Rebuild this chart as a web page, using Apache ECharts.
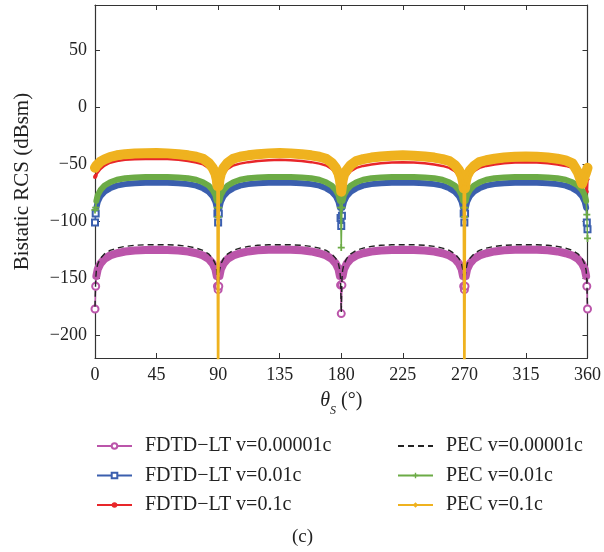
<!DOCTYPE html>
<html>
<head>
<meta charset="utf-8">
<script src="https://cdn.jsdelivr.net/npm/echarts@6/dist/echarts.min.js"></script>
<style>
  html, body { margin: 0; padding: 0; background: #fff; }
  #chart { width: 604px; height: 552px; }
</style>
</head>
<body>
<div id="chart"></div>
<script>
// scattering angle (deg)
const angles = [
  0, 0.5, 1, 2, 4, 7, 11, 16, 22, 29, 37, 45, 53, 61, 68, 74, 79, 83, 86, 88, 89, 89.5,
  90, 90.5, 91, 92, 94, 97, 101, 106, 112, 119, 127, 135, 143, 151, 158, 164, 169, 173, 176, 178, 179, 179.5,
  180, 180.5, 181, 182, 184, 187, 191, 196, 202, 209, 217, 225, 233, 241, 248, 254, 259, 263, 266, 268, 269, 269.5,
  270, 270.5, 271, 272, 274, 277, 281, 286, 292, 299, 307, 315, 323, 331, 338, 344, 349, 353, 356, 358, 359, 359.5,
  360
];

// FDTD-LT v=0.00001c
const fdtdLow = [
  -177, -157, -148, -142, -137, -133, -130, -128, -126.5, -125.6, -125.2, -125, -125.2, -125.6, -126.5, -128, -130, -133, -137, -142, -148, -157,
  -160, -157, -148, -142, -137, -133, -130, -128, -126.4, -125.4, -124.9, -124.7, -124.9, -125.4, -126.4, -128, -130, -133, -137, -142, -148, -156,
  -181, -156, -148, -142, -137, -133, -130, -128, -126.5, -125.6, -125.2, -125, -125.2, -125.6, -126.5, -128, -130, -133, -137, -142, -148, -157,
  -160, -157, -148, -142, -137, -133, -130, -128, -126.4, -125.4, -124.9, -124.7, -124.9, -125.4, -126.4, -128, -130, -133, -137, -142, -148, -157,
  -177
];
// FDTD-LT v=0.01c
const fdtdMid = [
  -101, -93, -88, -83, -78, -74, -71, -68.6, -67.3, -66.5, -66.1, -66, -66.1, -66.5, -67.3, -68.6, -71, -74, -78, -83, -88, -93,
  -101, -93, -88, -83, -78, -74, -71, -68.6, -67.3, -66.5, -66.1, -66, -66.1, -66.5, -67.3, -68.6, -71, -74, -78, -83, -88, -97,
  -104, -95, -88, -83, -78, -74, -71, -68.6, -67.3, -66.5, -66.1, -66, -66.1, -66.5, -67.3, -68.6, -71, -74, -78, -83, -88, -93,
  -101, -93, -88, -83, -78, -74, -71, -68.6, -67.3, -66.5, -66.1, -66, -66.1, -66.5, -67.3, -68.6, -71, -74, -78, -83, -88, -101,
  -107
];
// FDTD-LT v=0.1c
const fdtdHigh = [
  -61, -60, -59, -57, -54, -51, -48.5, -47, -46, -45.5, -45.2, -45, -45.3, -46, -47, -48.3, -50, -53, -57, -62, -67, -72,
  -78, -73, -68, -63, -58, -54, -51, -49.3, -48, -47, -46.3, -46, -46.3, -47, -48, -49.3, -51, -54, -58, -63, -68, -73,
  -79, -75, -70, -65, -60, -56, -53, -51.3, -50, -49, -48.3, -48, -48.3, -49, -50, -51.3, -53, -56, -60, -65, -70, -75,
  -80, -75, -70, -65, -60, -56, -53, -51.3, -50, -49, -48.3, -48, -48.3, -49, -50, -51.3, -53, -56, -60, -66, -71, -74,
  -63
];
// PEC v=0.00001c
const pecLow = [
  -175, -151, -143, -137.5, -132.5, -128.5, -125.5, -123.5, -122, -121, -120.6, -120.5, -120.6, -121, -122, -123.5, -125.5, -128.5, -132.5, -137.5, -143, -151,
  -161, -151, -143, -137.5, -132.5, -128.5, -125.5, -123.5, -122, -121, -120.6, -120.5, -120.6, -121, -122, -123.5, -125.5, -128.5, -132.5, -137.5, -143, -151,
  -180, -151, -143, -137.5, -132.5, -128.5, -125.5, -123.5, -122, -121, -120.6, -120.5, -120.6, -121, -122, -123.5, -125.5, -128.5, -132.5, -137.5, -143, -151,
  -161, -151, -143, -137.5, -132.5, -128.5, -125.5, -123.5, -122, -121, -120.6, -120.5, -120.6, -121, -122, -123.5, -125.5, -128.5, -132.5, -137.5, -143, -151,
  -175
];
// PEC v=0.01c
const pecMid = [
  -90, -88, -82, -77, -72.5, -68.5, -65.7, -63.5, -62.2, -61.5, -61.1, -61, -61.1, -61.5, -62.2, -63.5, -65.7, -68.5, -72.5, -77, -82, -88,
  -96, -88, -82, -77, -72.5, -68.5, -65.7, -63.5, -62.2, -61.5, -61.1, -61, -61.1, -61.5, -62.2, -63.5, -65.7, -68.5, -72.5, -77, -82, -88,
  -123, -88, -82, -77, -72.5, -68.5, -65.7, -63.5, -62.2, -61.5, -61.1, -61, -61.1, -61.5, -62.2, -63.5, -65.7, -68.5, -72.5, -77, -82, -88,
  -96, -88, -82, -77, -72.5, -68.5, -65.7, -63.5, -62.2, -61.5, -61.1, -61, -61.1, -61.5, -62.2, -63.5, -65.7, -68.5, -72.5, -77, -82, -94,
  -115
];
// PEC v=0.1c
const pecHigh = [
  -53, -52, -51, -49.5, -47.5, -45.5, -43.5, -42, -41, -40.4, -40.1, -40, -40.3, -41, -42, -43.3, -45, -48.5, -53, -58, -63, -69,
  -250, -69, -63, -58, -53, -48.5, -45, -43.3, -42, -41, -40.3, -40, -40.3, -41, -42, -43.3, -45, -48.5, -53, -58, -63, -68,
  -74, -69, -64, -59, -55, -50.5, -47, -45.3, -44, -43, -42.3, -42, -42.3, -43, -44, -45.3, -47, -50.5, -55, -60, -65, -71,
  -250, -71, -65, -60, -55.5, -51.5, -48, -46.3, -45, -44, -43.3, -43, -43.3, -44, -45, -46.5, -49, -57, -67, -60, -57, -55,
  -53
];

const yTicks = [-200, -150, -100, -50, 0, 50];

const FONT = "'Liberation Serif', 'Times New Roman', serif";
const PLUS = 'path://M3,0H5V3H8V5H5V8H3V5H0V3H3Z';

function pairs(vals, floor) {
  return angles.map((a, i) => [a, (floor != null && vals[i] < floor) ? '-' : vals[i]]);
}

// marker only near the nulls of the pattern
function dipSize(size) {
  return function (v) {
    const m = v[0] % 90;
    return (m <= 0.5 || m >= 89.5) ? size : 0;
  };
}

function thin(name, vals, color, symbol, size, width, z, extra) {
  return Object.assign({
    name: name,
    type: 'line',
    data: pairs(vals),
    z: z,
    symbol: symbol,
    symbolSize: dipSize(size),
    showAllSymbol: true,
    itemStyle: { color: color, borderWidth: 1.2 },
    lineStyle: { color: color, width: width },
    silent: true
  }, extra || {});
}

function band(name, vals, color, width, floor, z) {
  return {
    name: name,
    type: 'line',
    data: pairs(vals, floor),
    z: z,
    symbol: 'none',
    itemStyle: { color: color },
    lineStyle: { color: color, width: width, cap: 'round', join: 'round' },
    silent: true
  };
}

const nFL = 'FDTD\u2212LT v=0.00001c';
const nFM = 'FDTD\u2212LT v=0.01c';
const nFH = 'FDTD\u2212LT v=0.1c';
const nPL = 'PEC v=0.00001c';
const nPM = 'PEC v=0.01c';
const nPH = 'PEC v=0.1c';

const pink = '#bb55aa', blue = '#3b5fae', red = '#e8262a', black = '#222222', green = '#6cab46', yellow = '#efb21f';

const chart = echarts.init(document.getElementById('chart'));

const axisCommon = {
  axisLine: { show: true, onZero: false, lineStyle: { color: '#333', width: 1.2 } },
  axisTick: { show: true, inside: true, length: 5, lineStyle: { color: '#333' } },
  splitLine: { show: false }
};
const yTick = { show: true, inside: true, length: 5, customValues: yTicks, lineStyle: { color: '#333' } };

const legendCommon = {
  orient: 'vertical', top: 436, padding: 0,
  itemWidth: 35, itemHeight: 7, itemGap: 9.5,
  lineStyle: { width: 2 },
  textStyle: { fontFamily: FONT, fontSize: 20, color: '#222', lineHeight: 18, padding: [0, 0, 0, 8] }
};

chart.setOption({
  animation: false,
  backgroundColor: '#fff',
  textStyle: { fontFamily: FONT },
  title: {
    text: '(c)',
    left: 292,
    top: 528,
    padding: 0,
    textStyle: { fontFamily: FONT, fontSize: 19, fontWeight: 'normal', color: '#222' }
  },
  grid: { left: 95, right: 16, top: 5, bottom: 194, containLabel: false },
  xAxis: [
    Object.assign({
      type: 'value', min: 0, max: 360, interval: 45, position: 'bottom',
      axisLabel: { fontSize: 18, color: '#222', fontFamily: FONT, margin: 8 },
      name: '{t|\u03b8}{s|S}{n| (\u00b0)}',
      nameLocation: 'middle',
      nameGap: 27,
      nameTextStyle: {
        rich: {
          t: { fontFamily: FONT, fontStyle: 'italic', fontSize: 20, color: '#222', lineHeight: 32 },
          s: { fontFamily: FONT, fontStyle: 'italic', fontSize: 12, color: '#222', verticalAlign: 'bottom', lineHeight: 12 },
          n: { fontFamily: FONT, fontSize: 20, color: '#222', lineHeight: 32 }
        }
      }
    }, axisCommon),
    Object.assign({
      type: 'value', min: 0, max: 360, interval: 45, position: 'top',
      axisLabel: { show: false }
    }, axisCommon)
  ],
  yAxis: [
    Object.assign({
      type: 'value', min: -220, max: 90, position: 'left',
      axisLabel: {
        customValues: yTicks,
        fontSize: 18, color: '#222', fontFamily: FONT, margin: 8,
        formatter: v => (v < 0 ? '\u2212' + (-v) : String(v))
      },
      name: 'Bistatic RCS (dBsm)',
      nameLocation: 'middle',
      nameGap: 62,
      nameTextStyle: { fontFamily: FONT, fontSize: 21, color: '#222' }
    }, axisCommon, { axisTick: yTick }),
    Object.assign({
      type: 'value', min: -220, max: 90, position: 'right',
      axisLabel: { show: false }
    }, axisCommon, { axisTick: yTick })
  ],
  legend: [
    Object.assign({ left: 96, data: [nFL, nFM, nFH] }, legendCommon),
    Object.assign({ left: 397, data: [{ name: nPL, itemStyle: { opacity: 0 } }, nPM, nPH] }, legendCommon)
  ],
  series: [
    thin(nFL, fdtdLow, pink, 'emptyCircle', 7, 1.5, 3),
    thin(nFM, fdtdMid, blue, 'emptyRect', 6, 1.5, 6),
    thin(nFH, fdtdHigh, red, 'circle', 4, 2.5, 7),
    thin(nPL, pecLow, black, 'none', 0, 1.4, 4, { lineStyle: { color: black, width: 1.4, type: [6, 4] } }),
    thin(nPM, pecMid, green, PLUS, 7, 1.5, 9),
    thin(nPH, pecHigh, yellow, 'diamond', 7, 2.5, 11),
    band(nFL, fdtdLow, pink, 8, -150, 2),
    band(nFM, fdtdMid, blue, 6, -90, 5),
    band(nPM, pecMid, green, 6, -85, 8),
    band(nPH, pecHigh, yellow, 10, -75, 10)
  ]
});
</script>
</body>
</html>
